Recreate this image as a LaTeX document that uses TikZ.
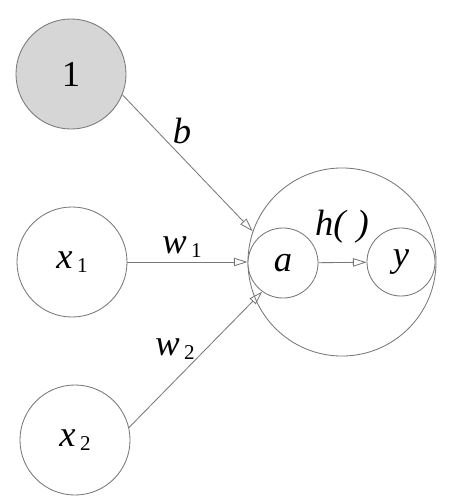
\documentclass[tikz,border=0pt]{standalone}
\usepackage{fontspec}
\setmainfont{Liberation Serif}
\usetikzlibrary{arrows.meta}
\definecolor{linegray}{RGB}{120,120,120}
\definecolor{biasgray}{RGB}{214,214,214}
\newcommand{\idx}[1]{\hspace{0.12em}{\fontsize{15}{15}\selectfont\raisebox{-0.2em}{\upshape #1}}}

\begin{document}
\begin{tikzpicture}[x=0.025cm, y=-0.025cm,
    unit/.style={circle, draw=linegray, line width=0.6pt, fill=white, inner sep=0pt,
        font=\fontsize{26}{30}\selectfont\itshape},
    arr/.style={-{Triangle[open, length=3.4mm, width=2.1mm]}, line width=0.6pt, linegray},
    lbl/.style={font=\fontsize{26}{30}\selectfont\itshape, inner sep=0pt}
]
    \useasboundingbox (0,0) rectangle (467,497);
    % inputs
    \node[unit, fill=biasgray, minimum size=2.75cm] (one) at (71,74) {\upshape 1};
    \node[unit, minimum size=2.75cm] (x1) at (72,262) {x\idx{1}};
    \node[unit, minimum size=2.75cm] (x2) at (75,440) {x\idx{2}};
    % neuron
    \node[unit, minimum size=4.7cm] (neuron) at (342,262) {};
    \node[unit, minimum size=1.75cm] (a) at (283,263) {a};
    \node[unit, minimum size=1.7cm] (y) at (401,262) {y};

    \draw[arr] (one.-22) -- (neuron.161);
    \draw[arr] (x1.east) -- (neuron.west);
    \draw[arr] (x2.13) -- (a.234);
    \draw[arr] (a) -- (y);

    % weights
    \node[lbl] (blbl) at (182,131) {b};
    \node[lbl] (w1lbl) at (182,247) {w\idx{1}};
    \node[lbl] (w2lbl) at (175,349) {w\idx{2}};
    \node[lbl] (hlbl) at (342,227) {h(\hspace{0.3em})};
\end{tikzpicture}
\end{document}
